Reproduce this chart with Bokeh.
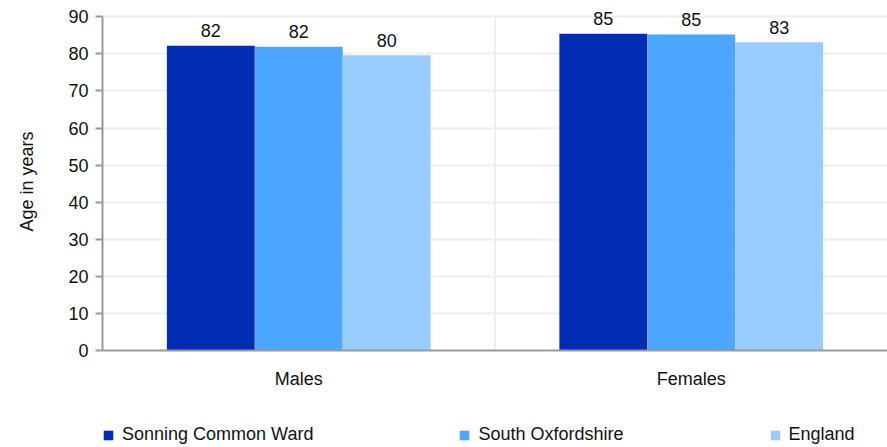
from bokeh.plotting import figure
from bokeh.layouts import column
from bokeh.models import ColumnDataSource, FactorRange, Range1d, Legend, LegendItem, FixedTicker
from bokeh.transform import dodge
from bokeh.core.properties import value
from bokeh.embed import file_html
from bokeh.resources import INLINE

categories = ["Males", "Females"]
series_names = ["Sonning Common Ward", "South Oxfordshire", "England"]
ward = [82.2, 85.4]
district = [81.9, 85.2]
england = [79.6, 83.1]
ward_labels = ["82", "85"]
district_labels = ["82", "85"]
england_labels = ["80", "83"]
y_ticks = [0, 10, 20, 30, 40, 50, 60, 70, 80, 90]
y_min, y_max = 0, 90

colors = ["#002db3", "#4da6ff", "#99ccff"]
FONT = "Liberation Sans"
FS = "18px"

src = ColumnDataSource(dict(cat=categories, ward=ward, district=district, england=england,
                            wl=ward_labels, dl=district_labels, el=england_labels))

# a little headroom above 90 so the value labels are not clipped; axis line is bounded to 0-90
p = figure(x_range=FactorRange(*categories, range_padding=0), y_range=Range1d(y_min, y_max + 2.5),
           width=887, height=407, output_backend="svg", toolbar_location=None,
           min_border_top=7, min_border_right=0, min_border_left=102, min_border_bottom=57)
p.outline_line_color = None

# separator between the two categories (factor boundary at synthetic coordinate 1)
p.segment(x0=[1], x1=[1], y0=[y_min], y1=[y_max], line_color="#eeeeee", line_width=2)

bw = 0.224
cols = [("ward", "wl"), ("district", "dl"), ("england", "el")]
for i, (c, lab) in enumerate(cols):
    off = (i - 1) * bw
    p.vbar(x=dodge("cat", off, range=p.x_range), top=c, width=bw, source=src,
           fill_color=colors[i], line_color=None)
    p.text(x=dodge("cat", off, range=p.x_range), y=c, text=lab, source=src,
           text_align="center", text_baseline="bottom", y_offset=-8.5,
           text_font=value(FONT), text_font_size=FS, text_color="#111111")

p.xgrid.grid_line_color = None
p.ygrid.grid_line_color = "#eeeeee"
p.ygrid.grid_line_width = 2
p.yaxis.ticker = FixedTicker(ticks=y_ticks)
p.yaxis.bounds = (y_min, y_max)
p.yaxis.axis_label = "Age  in years"
p.yaxis.axis_label_text_font = FONT
p.yaxis.axis_label_text_font_size = FS
p.yaxis.axis_label_text_font_style = "normal"
p.yaxis.axis_label_text_color = "#111111"
p.yaxis.axis_label_standoff = 28
for ax in (p.xaxis, p.yaxis):
    ax.axis_line_color = "#999999"
    ax.axis_line_width = 2
    ax.major_label_text_font = FONT
    ax.major_label_text_font_size = FS
    ax.major_label_text_color = "#111111"
    ax.minor_tick_line_color = None
p.yaxis.major_tick_line_color = "#999999"
p.yaxis.major_tick_line_width = 2
p.yaxis.major_tick_out = 7
p.yaxis.major_tick_in = 0
p.yaxis.major_label_standoff = 7
p.xaxis.major_tick_line_color = None
p.xaxis.major_label_standoff = 12

# legend strip: a second figure whose range hides its bars, so only the legend shows
lg = figure(x_range=FactorRange(*categories, range_padding=0), y_range=Range1d(1000, 1001),
            width=887, height=40, output_backend="svg", toolbar_location=None,
            x_axis_location=None, y_axis_location=None,
            min_border_top=0, min_border_right=0, min_border_left=0, min_border_bottom=0)
lg.outline_line_color = None
lg.grid.grid_line_color = None
lg_renderers = []
for i, (c, lab) in enumerate(cols):
    off = (i - 1) * bw
    lg_renderers.append(lg.vbar(x=dodge("cat", off, range=lg.x_range), top=c, width=bw,
                                source=src, fill_color=colors[i], line_color=None))

legend = Legend(items=[LegendItem(label=series_names[i], renderers=[lg_renderers[i]]) for i in range(3)],
                orientation="horizontal", location=(0, 2), spacing=145,
                glyph_width=12, glyph_height=12, label_standoff=8, padding=0, margin=0,
                label_text_font=FONT, label_text_font_size=FS, label_text_color="#111111",
                border_line_color=None, background_fill_alpha=0)
lg.add_layout(legend, "center")

layout = column(p, lg, spacing=0)
open("out.html", "w").write(file_html(layout, INLINE))
